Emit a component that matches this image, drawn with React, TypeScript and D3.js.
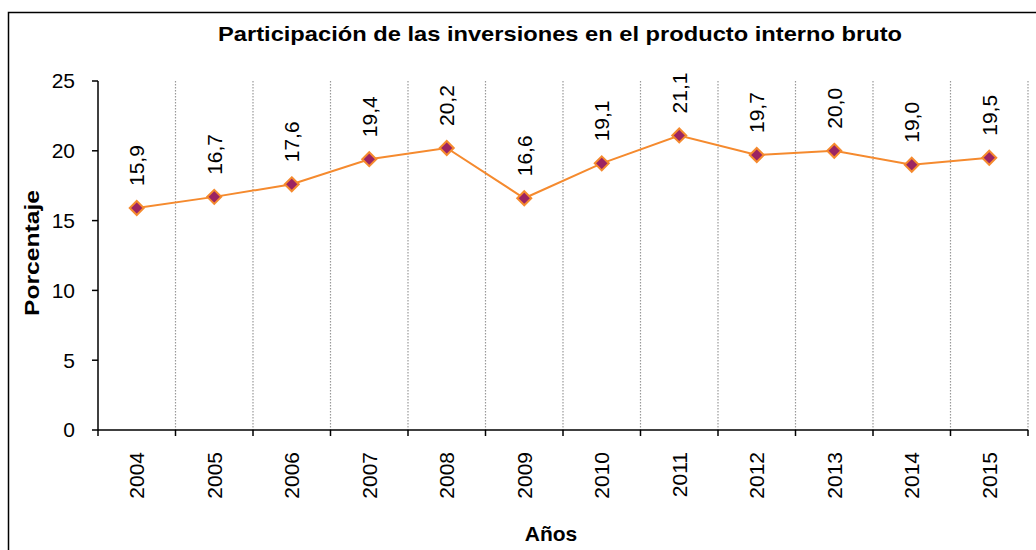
import React from "react";
import * as d3 from "d3";

const years = ["2004","2005","2006","2007","2008","2009","2010","2011","2012","2013","2014","2015"];
const values = [15.9, 16.7, 17.6, 19.4, 20.2, 16.6, 19.1, 21.1, 19.7, 20.0, 19.0, 19.5];
const yTicks = [0, 5, 10, 15, 20, 25];

const W = 1036, H = 550;
const left = 98, right = 1028, top = 81, bottom = 430;
const font = "Liberation Sans, Arial, sans-serif";

export default function App() {
  const x = d3.scaleBand<string>().domain(years).range([left, right]).padding(0);
  const y = d3.scaleLinear().domain([0, 25]).range([bottom, top]);
  const cx = (d: string) => (x(d) as number) + x.bandwidth() / 2;
  const line = d3.line<number>().x((_, i) => cx(years[i])).y(v => y(v));
  const fmt = (v: number) => v.toFixed(1).replace(".", ",");
  const bounds = years.map(d => (x(d) as number)).concat([right]);
  return (
    <svg width={W} height={H} style={{ position: "absolute", left: 0, top: 0 }} fontFamily={font}>
      <rect x={0} y={0} width={W} height={H} fill="#fff" />
      <rect x={8.5} y={12.5} width={1040} height={560} fill="none" stroke="#000" strokeWidth={1.5} />
      <text x={560} y={41} textAnchor="middle" fontSize={21} fontWeight="bold" textLength={684} lengthAdjust="spacingAndGlyphs">Participación de las inversiones en el producto interno bruto</text>
      {bounds.slice(1).map((b, i) => (
        <line key={"g" + i} x1={b} x2={b} y1={top} y2={bottom} stroke="#999" strokeWidth={1.2} strokeDasharray="1.5,1.5" />
      ))}
      <line x1={left} x2={left} y1={top} y2={bottom} stroke="#000" strokeWidth={1.5} />
      <line x1={left} x2={right} y1={bottom} y2={bottom} stroke="#000" strokeWidth={1.5} />
      {yTicks.map(t => (
        <g key={"y" + t}>
          <line x1={left - 6} x2={left} y1={y(t)} y2={y(t)} stroke="#000" strokeWidth={1.5} />
          <text x={75} y={y(t)} dy="0.35em" textAnchor="end" fontSize={21}>{t}</text>
        </g>
      ))}
      {bounds.map((b, i) => (
        <line key={"xt" + i} x1={b} x2={b} y1={bottom} y2={bottom + 6} stroke="#000" strokeWidth={1.5} />
      ))}
      {years.map(d => (
        <text key={"xl" + d} transform={`translate(${cx(d)},452) rotate(-90)`} dy="0.35em" textAnchor="end" fontSize={21}>{d}</text>
      ))}
      <path d={line(values) || ""} fill="none" stroke="#F58A2E" strokeWidth={2} />
      {values.map((v, i) => {
        const px = cx(years[i]), py = y(v), r = 7;
        return (
          <path key={"m" + i} d={`M${px},${py - r}L${px + r},${py}L${px},${py + r}L${px - r},${py}Z`} fill="#9B2463" stroke="#F58A2E" strokeWidth={2} />
        );
      })}
      {values.map((v, i) => (
        <text key={"l" + i} transform={`translate(${cx(years[i])},${y(v) - 22}) rotate(-90)`} dy="0.35em" textAnchor="start" fontSize={21}>{fmt(v)}</text>
      ))}
      <text transform={`translate(32,253) rotate(-90)`} dy="0.35em" textAnchor="middle" fontSize={21} fontWeight="bold" textLength={126} lengthAdjust="spacingAndGlyphs">Porcentaje</text>
      <text x={551} y={541} textAnchor="middle" fontSize={21} fontWeight="bold">Años</text>
    </svg>
  );
}
